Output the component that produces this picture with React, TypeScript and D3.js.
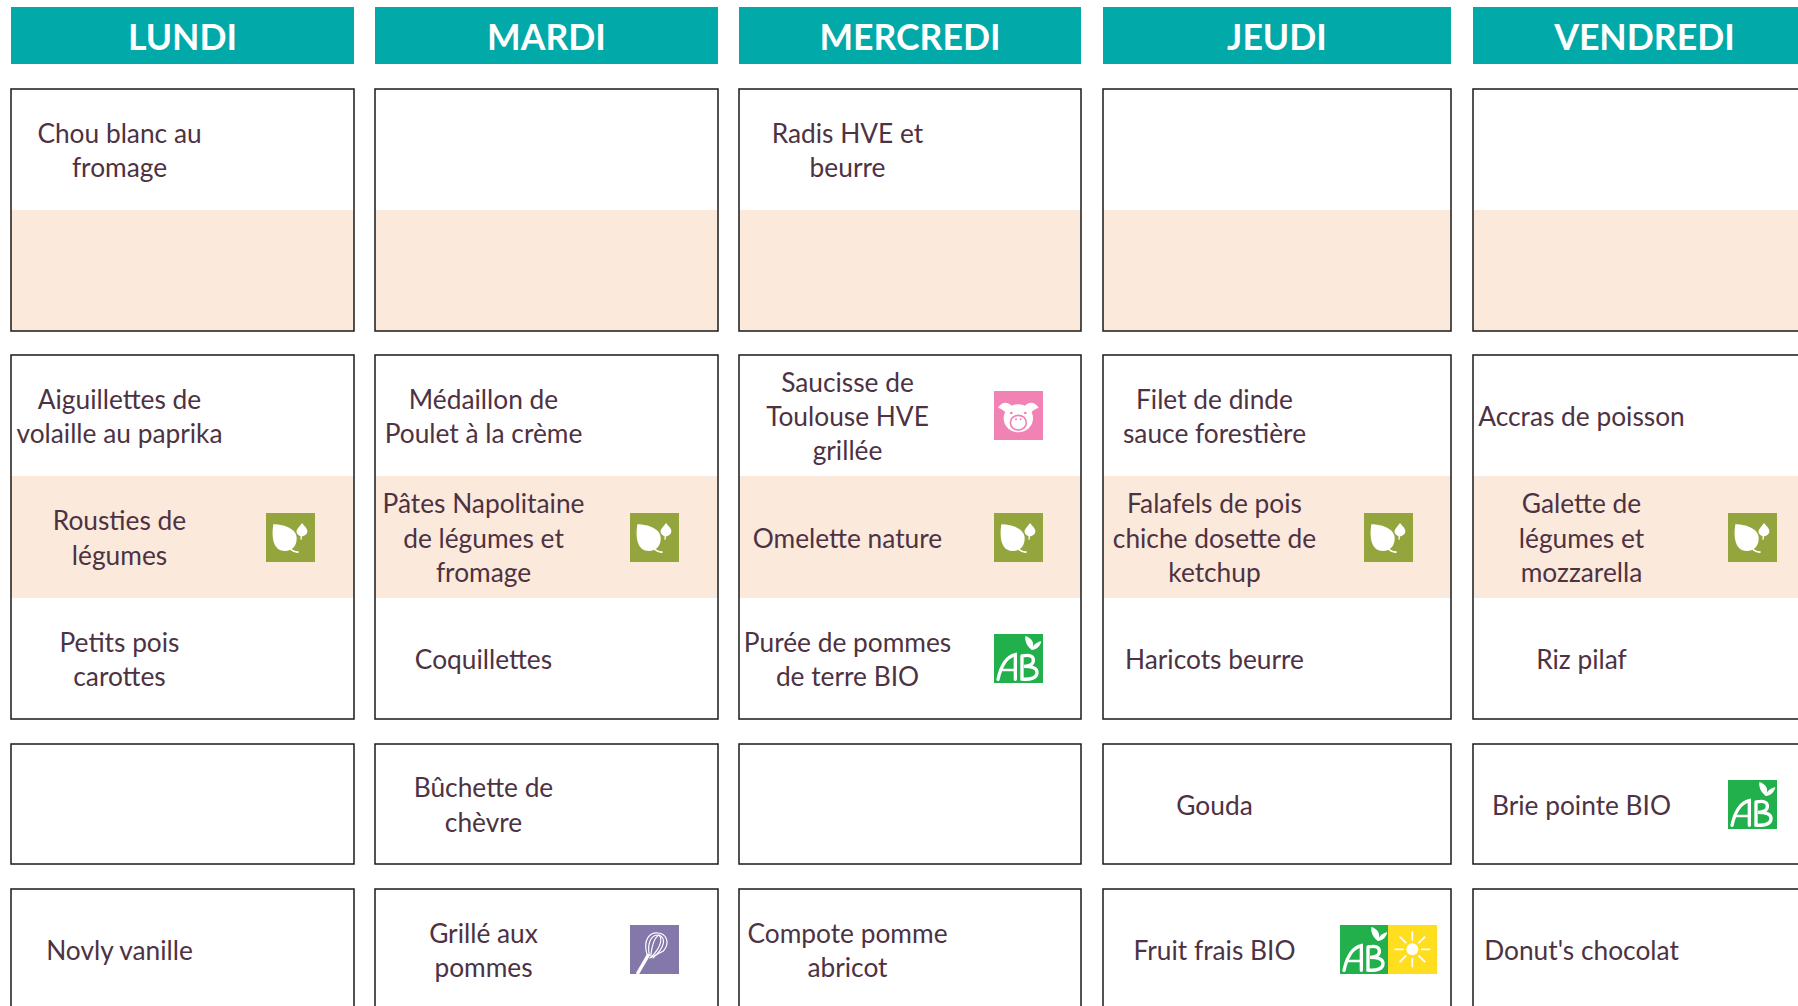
import React, { useEffect, useRef } from "react";
import * as d3 from "d3";

const days = ["LUNDI", "MARDI", "MERCREDI", "JEUDI", "VENDREDI"];

// one entry per day, "|" marks a line break
const entrees = ["Chou blanc au|fromage", "", "Radis HVE et|beurre", "", ""];
const vegetariens = ["", "", "", "", ""];
const viandes = [
  "Aiguillettes de|volaille au paprika",
  "Médaillon de|Poulet à la crème",
  "Saucisse de|Toulouse HVE|grillée",
  "Filet de dinde|sauce forestière",
  "Accras de poisson",
];
const plats = [
  "Rousties de|légumes",
  "Pâtes Napolitaine|de légumes et|fromage",
  "Omelette nature",
  "Falafels de pois|chiche dosette de|ketchup",
  "Galette de|légumes et|mozzarella",
];
const garnitures = [
  "Petits pois|carottes",
  "Coquillettes",
  "Purée de pommes|de terre BIO",
  "Haricots beurre",
  "Riz pilaf",
];
const fromages = ["", "Bûchette de|chèvre", "", "Gouda", "Brie pointe BIO"];
const desserts = [
  "Novly vanille",
  "Grillé aux|pommes",
  "Compote pomme|abricot",
  "Fruit frais BIO",
  "Donut's chocolat",
];

const slotNames = ["entree", "vege", "viande", "plat", "garniture", "fromage", "dessert"];
const slotTexts = [entrees, vegetariens, viandes, plats, garnitures, fromages, desserts];

// icons per slot, as [day, slot, kind]
const badges: [string, string, string][] = [
  ["LUNDI", "plat", "leaf"],
  ["MARDI", "plat", "leaf"],
  ["MERCREDI", "plat", "leaf"],
  ["JEUDI", "plat", "leaf"],
  ["VENDREDI", "plat", "leaf"],
  ["MERCREDI", "viande", "pig"],
  ["MERCREDI", "garniture", "ab"],
  ["VENDREDI", "fromage", "ab"],
  ["MARDI", "dessert", "whisk"],
];

// groups of slots drawn inside one outlined box
const boxes = [
  ["entree", "vege"],
  ["viande", "plat", "garniture"],
  ["fromage"],
  ["dessert"],
];
const shadedSlots = ["vege", "plat"];

const badgeKinds = ["leaf", "pig", "ab", "whisk", "sun"];
const badgeColors = ["#95a53d", "#f182b4", "#22b04c", "#8478ab", "#ffdd1f"];

const TEAL = "#02a9a9";
const PEACH = "#fbe9db";
const INK = "#4d3243";
const BADGE = 49;

type G = d3.Selection<SVGGElement, unknown, null, undefined>;

function drawAb(g: G) {
  const white = (d: string, w = 5) =>
    g.append("path").attr("d", d).attr("fill", "none").attr("stroke", "white").attr("stroke-width", w).attr("stroke-linecap", "round");
  white("M12,136 C20,100 36,68 64,62 L64,136", 10);
  white("M26,108 L62,108", 8);
  white("M84,66 L84,135 C108,138 130,132 129,114 C128,100 112,97 90,97 C107,97 120,90 118,76 C116,62 100,63 84,66", 10);
  g.append("path").attr("d", "M94,6 C112,12 124,26 114,48 C100,38 92,24 94,6 Z").attr("fill", "white");
  g.append("path").attr("d", "M142,22 C138,38 128,48 112,48 C118,32 128,24 142,22 Z").attr("fill", "white");
}

function drawLeaf(g: G) {
  g.append("path")
    .attr("d", "M22,34 C55,34 92,48 92,76 C92,98 80,114 56,114 C28,114 14,86 22,34 Z")
    .attr("fill", "white");
  g.append("path").attr("d", "M72,106 C80,116 88,118 98,117").attr("fill", "none").attr("stroke", "white").attr("stroke-width", 5);
  g.append("path")
    .attr("d", "M108,30 C116,40 126,48 124,56 C122,66 112,70 106,70 C96,68 90,60 92,52 C96,44 102,38 108,30 Z")
    .attr("fill", "white");
  g.append("path").attr("d", "M106,68 L105,80").attr("stroke", "white").attr("stroke-width", 4);
}

function drawPig(g: G, color: string) {
  g.append("path").attr("d", "M12,50 C24,30 44,32 54,46 L36,66 C28,56 20,52 12,50 Z").attr("fill", "white");
  g.append("path").attr("d", "M134,50 C122,30 102,32 92,46 L110,66 C118,56 126,52 134,50 Z").attr("fill", "white");
  g.append("ellipse").attr("cx", 73).attr("cy", 82).attr("rx", 44).attr("ry", 42).attr("fill", "white");
  g.append("circle").attr("cx", 52).attr("cy", 66).attr("r", 4).attr("fill", color);
  g.append("circle").attr("cx", 94).attr("cy", 66).attr("r", 4).attr("fill", color);
  g.append("ellipse").attr("cx", 73).attr("cy", 95).attr("rx", 24).attr("ry", 22).attr("fill", "white").attr("stroke", color).attr("stroke-width", 5);
  g.append("circle").attr("cx", 66).attr("cy", 85).attr("r", 3).attr("fill", color);
  g.append("circle").attr("cx", 80).attr("cy", 85).attr("r", 3).attr("fill", color);
}

function drawWhisk(g: G) {
  g.append("path").attr("d", "M22,147 L56,88").attr("stroke", "white").attr("stroke-width", 10).attr("fill", "none");
  const wires = ["M52,92 C36,40 62,22 84,24 C108,26 122,52 100,78 L58,100", "M58,92 C50,50 66,30 84,30 C96,34 100,60 62,98", "M62,94 C66,60 72,36 88,30 C108,40 106,66 68,100"];
  wires.forEach(d => g.append("path").attr("d", d).attr("stroke", "white").attr("stroke-width", 3.5).attr("fill", "none"));
}

function drawSun(g: G) {
  g.append("circle").attr("cx", 73).attr("cy", 73).attr("r", 18).attr("fill", "white");
  d3.range(8).forEach(i => {
    const a = (i * Math.PI) / 4;
    g.append("line")
      .attr("x1", 73 + 26 * Math.cos(a))
      .attr("y1", 73 + 26 * Math.sin(a))
      .attr("x2", 73 + 54 * Math.cos(a))
      .attr("y2", 73 + 54 * Math.sin(a))
      .attr("stroke", "white")
      .attr("stroke-width", 5);
  });
}

export default function App() {
  const svgRef = useRef<SVGSVGElement>(null);

  useEffect(() => {
    document.body.style.margin = "0";
    const svg = d3.select(svgRef.current);
    svg.selectAll("*").remove();

    // scales for the columns and the slots
    const colLeft = d3.scaleOrdinal<string, number>().domain(days).range([11, 375, 739, 1103, 1473]);
    const colWidth = d3.scaleOrdinal<string, number>().domain(days).range([343, 343, 342, 348, 343]);
    const textCenter = d3.scaleOrdinal<string, number>().domain(days).range([119.5, 483.5, 847.5, 1214.5, 1581.5]);
    const badgeLeft = d3.scaleOrdinal<string, number>().domain(days).range([266, 630, 994, 1364, 1728]);
    const slotTop = d3.scaleOrdinal<string, number>().domain(slotNames).range([89, 210, 355, 476, 598, 744, 889]);
    const slotHeight = d3.scaleOrdinal<string, number>().domain(slotNames).range([121, 121, 121, 122, 121, 120, 121]);
    const badgeColor = d3.scaleOrdinal<string, string>().domain(badgeKinds).range(badgeColors);

    // header bars
    svg.append("g").selectAll("rect").data(days).join("rect")
      .attr("x", d => colLeft(d)).attr("y", 7)
      .attr("width", d => colWidth(d)).attr("height", 57)
      .attr("fill", TEAL);
    svg.append("g").selectAll("text").data(days).join("text")
      .attr("x", d => colLeft(d) + colWidth(d) / 2).attr("y", 49.5)
      .attr("text-anchor", "middle")
      .attr("font-family", "Lato").attr("font-weight", 700).attr("font-size", 35.6)
      .attr("fill", "white")
      .text(d => d);

    // peach bands
    const cols = svg.append("g");
    days.forEach(day => {
      cols.append("g").selectAll("rect").data(shadedSlots).join("rect")
        .attr("x", colLeft(day)).attr("y", d => slotTop(d))
        .attr("width", colWidth(day)).attr("height", d => slotHeight(d))
        .attr("fill", PEACH);
    });

    // box outlines
    days.forEach(day => {
      cols.append("g").selectAll("rect").data(boxes).join("rect")
        .attr("x", colLeft(day)).attr("y", d => slotTop(d[0]))
        .attr("width", colWidth(day))
        .attr("height", d => slotTop(d[d.length - 1]) + slotHeight(d[d.length - 1]) - slotTop(d[0]))
        .attr("fill", "none").attr("stroke", "#1a1a1a").attr("stroke-width", 1.5);
    });

    // dish labels
    const labels = svg.append("g")
      .attr("font-family", "Lato").attr("font-size", 26.3).attr("fill", INK).attr("text-anchor", "middle");
    slotNames.forEach((slot, s) => {
      days.forEach((day, i) => {
        const lines = slotTexts[s][i] ? slotTexts[s][i].split("|") : [];
        lines.forEach((line, l) => {
          labels.append("text")
            .attr("x", textCenter(day))
            .attr("y", slotTop(slot) + slotHeight(slot) / 2 + (l - (lines.length - 1) / 2) * 34.2 + 10.5)
            .text(line);
        });
      });
    });

    // badges
    const paint = (kind: string, x: number, y: number) => {
      const g = svg.append("g").attr("transform", `translate(${x},${y})`);
      g.append("rect").attr("width", BADGE).attr("height", BADGE).attr("fill", badgeColor(kind));
      const inner = g.append("g").attr("transform", `scale(${BADGE / 147})`) as unknown as G;
      if (kind === "leaf") drawLeaf(inner);
      if (kind === "pig") drawPig(inner, badgeColor(kind));
      if (kind === "ab") drawAb(inner);
      if (kind === "whisk") drawWhisk(inner);
      if (kind === "sun") drawSun(inner);
    };
    const badgeY = (slot: string) => Math.round(slotTop(slot) + slotHeight(slot) / 2 - BADGE / 2);
    badges.forEach(([day, slot, kind]) => paint(kind, badgeLeft(day), badgeY(slot)));
    // the organic + local pair sits a little left of the usual spot
    paint("ab", badgeLeft("JEUDI") - 24, badgeY("dessert"));
    paint("sun", badgeLeft("JEUDI") + 24, badgeY("dessert"));
  }, []);

  return <svg ref={svgRef} width={1798} height={1006} style={{ position: "fixed", left: 0, top: 0, background: "white" }} />;
}
